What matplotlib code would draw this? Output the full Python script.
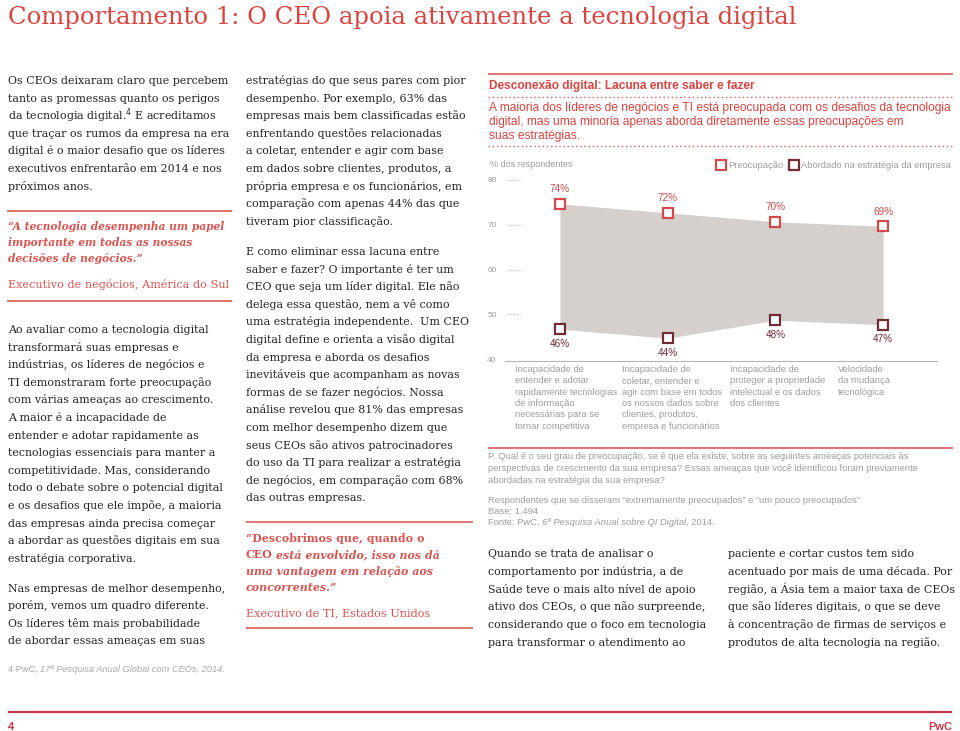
import matplotlib
matplotlib.use('Agg')
import matplotlib.pyplot as plt
from matplotlib.lines import Line2D
from matplotlib.transforms import ScaledTranslation
import numpy as np

# ---------------- data ----------------
categories = [
    "Incapacidade de\nentender e adotar\nrapidamente tecnologias\nde informação\nnecessárias para se\ntornar competitiva",
    "Incapacidade de\ncoletar, entender e\nagir com base em todos\nos nossos dados sobre\nclientes, produtos,\nempresa e funcionários",
    "Incapacidade de\nproteger a propriedade\nintelectual e os dados\ndos clientes",
    "Velocidade\nda mudança\ntecnológica",
]
concern = [74, 72, 70, 69]
addressed = [46, 44, 48, 47]
series_names = ["Preocupação", "Abordado na estratégia da empresa"]
y_ticks = [40, 50, 60, 70, 80]

title = "Comportamento 1: O CEO apoia ativamente a tecnologia digital"
col1_p1 = ["Os CEOs deixaram claro que percebem",
           "tanto as promessas quanto os perigos",
           "da tecnologia digital.$^4$ E acreditamos",
           "que traçar os rumos da empresa na era",
           "digital é o maior desafio que os líderes",
           "executivos enfrentarão em 2014 e nos",
           "próximos anos."]
col1_quote = ["“A tecnologia desempenha um papel",
              "importante em todas as nossas",
              "decisões de negócios.”"]
col1_attr = "Executivo de negócios, América do Sul"
col1_p2 = ["Ao avaliar como a tecnologia digital",
           "transformará suas empresas e",
           "indústrias, os líderes de negócios e",
           "TI demonstraram forte preocupação",
           "com várias ameaças ao crescimento.",
           "A maior é a incapacidade de",
           "entender e adotar rapidamente as",
           "tecnologias essenciais para manter a",
           "competitividade. Mas, considerando",
           "todo o debate sobre o potencial digital",
           "e os desafios que ele impõe, a maioria",
           "das empresas ainda precisa começar",
           "a abordar as questões digitais em sua",
           "estratégia corporativa."]
col1_p3 = ["Nas empresas de melhor desempenho,",
           "porém, vemos um quadro diferente.",
           "Os líderes têm mais probabilidade",
           "de abordar essas ameaças em suas"]
col2_p1 = ["estratégias do que seus pares com pior",
           "desempenho. Por exemplo, 63% das",
           "empresas mais bem classificadas estão",
           "enfrentando questões relacionadas",
           "a coletar, entender e agir com base",
           "em dados sobre clientes, produtos, a",
           "própria empresa e os funcionários, em",
           "comparação com apenas 44% das que",
           "tiveram pior classificação."]
col2_p2 = ["E como eliminar essa lacuna entre",
           "saber e fazer? O importante é ter um",
           "CEO que seja um líder digital. Ele não",
           "delega essa questão, nem a vê como",
           "uma estratégia independente.  Um CEO",
           "digital define e orienta a visão digital",
           "da empresa e aborda os desafios",
           "inevitáveis que acompanham as novas",
           "formas de se fazer negócios. Nossa",
           "análise revelou que 81% das empresas",
           "com melhor desempenho dizem que",
           "seus CEOs são ativos patrocinadores",
           "do uso da TI para realizar a estratégia",
           "de negócios, em comparação com 68%",
           "das outras empresas."]
col2_quote = [[("“Descobrimos que, quando o", "normal", "bold")],
              [("CEO", "normal", "bold"), (" está envolvido, isso nos dá", "italic", "bold")],
              [("uma vantagem em relação aos", "italic", "bold")],
              [("concorrentes.”", "italic", "bold")]]
col2_attr = "Executivo de TI, Estados Unidos"
chart_title = "Desconexão digital: Lacuna entre saber e fazer"
chart_sub = ["A maioria dos líderes de negócios e TI está preocupada com os desafios da tecnologia",
             "digital, mas uma minoria apenas aborda diretamente essas preocupações em",
             "suas estratégias."]
y_label = "% dos respondentes"
chart_q = ["P. Qual é o seu grau de preocupação, se é que ela existe, sobre as seguintes ameaças potenciais às",
           "perspectivas de crescimento da sua empresa? Essas ameaças que você identificou foram previamente",
           "abordadas na estratégia da sua empresa?"]
chart_src = [[("Respondentes que se disseram “extremamente preocupados” e “um pouco preocupados”", "normal", "normal")],
             [("Base: 1.494", "normal", "normal")],
             [("Fonte: PwC, ", "normal", "normal"), ("6ª Pesquisa Anual sobre QI Digital", "italic", "normal"),
              (", 2014.", "normal", "normal")]]
col3 = ["Quando se trata de analisar o",
        "comportamento por indústria, a de",
        "Saúde teve o mais alto nível de apoio",
        "ativo dos CEOs, o que não surpreende,",
        "considerando que o foco em tecnologia",
        "para transformar o atendimento ao"]
col4 = ["paciente e cortar custos tem sido",
        "acentuado por mais de uma década. Por",
        "região, a Ásia tem a maior taxa de CEOs",
        "que são líderes digitais, o que se deve",
        "à concentração de firmas de serviços e",
        "produtos de alta tecnologia na região."]
footnote = [("4 PwC, ", "normal", "normal"), ("17ª Pesquisa Anual Global com CEOs, 2014.", "italic", "normal")]
page_num = "4"
brand = "PwC"

# ---------------- style ----------------
W, H = 960, 731
SERIF = 'DejaVu Serif'
SANS = 'Liberation Sans'
TITLE_RED = '#d8443f'
QUOTE_RED = '#d65550'
LINE_RED = '#dc5c55'
PAGE_RED = '#c9374b'
BODY = '#242424'
GRAY = '#9c9c9c'
C_CONCERN = '#d24a4c'
C_ADDR = '#6f2e35'
C_FILL = '#d5d0cc'

fig = plt.figure(figsize=(9.6, 7.31), dpi=100)
fig.patch.set_facecolor('white')
R = fig.canvas.get_renderer()


def P(x, y):
    return (x / W, 1 - y / H)


def width(s, size, family, style='normal', weight='normal'):
    t = fig.text(0, 0, s, fontsize=size, family=family, style=style, weight=weight)
    w = t.get_window_extent(R).width
    t.remove()
    return w


def fit(line, target, family, style='normal', weight='normal', base=10.0):
    return base * target / width(line, base, family, style, weight)


def hline(x0, x1, y, color, lw=1.0, ls='-'):
    fig.add_artist(Line2D([x0 / W, x1 / W], [1 - y / H, 1 - y / H], transform=fig.transFigure,
                          color=color, lw=lw, ls=ls, solid_capstyle='butt'))


def lines_block(lines, x, y0, dy, size, family, color, style='normal', weight='normal', base_off=4):
    for i, s in enumerate(lines):
        fig.text(*P(x, y0 + i * dy + base_off), s, fontsize=size, family=family, color=color,
                 style=style, weight=weight, ha='left', va='baseline')


def runs(x, y, parts, size, family, color):
    sp = width('x x', size, family) - width('xx', size, family)
    for s, style, weight in parts:
        lead = len(s) - len(s.lstrip(' '))
        trail = len(s) - len(s.rstrip(' '))
        x += lead * sp
        t = fig.text(*P(x, y), s.strip(' '), fontsize=size, family=family, color=color,
                     style=style, weight=weight, ha='left', va='baseline')
        x += t.get_window_extent(R).width + trail * sp


# ---------------- title ----------------
ts = fit(title, 789, SERIF)
fig.text(*P(8, 24), title, fontsize=ts, family=SERIF, color=TITLE_RED, ha='left', va='baseline')

# ---------------- body text ----------------
bs = fit("todo o debate sobre o potencial digital", 215, SERIF)
lines_block(col1_p1, 8, 80, 17.6, bs, SERIF, BODY)
lines_block(col1_p2, 8, 329, 17.6, bs, SERIF, BODY)
lines_block(col1_p3, 8, 588, 17.4, bs, SERIF, BODY)
lines_block(col2_p1, 246, 80, 17.6, bs, SERIF, BODY)
lines_block(col2_p2, 246, 251, 17.6, bs, SERIF, BODY)
lines_block(col3, 488, 553, 17.8, bs, SERIF, BODY)
lines_block(col4, 728, 553, 17.8, bs, SERIF, BODY)

# quotes col1
hline(7, 232, 210.5, LINE_RED, 1.2)
qs = fit(col1_quote[0], 217, SERIF, 'italic', 'bold')
lines_block(col1_quote, 8, 226, 16.0, qs, SERIF, QUOTE_RED, 'italic', 'bold')
as_ = fit(col1_attr, 223, SERIF)
fig.text(*P(8, 288), col1_attr, fontsize=as_, family=SERIF, color=QUOTE_RED, ha='left', va='baseline')
hline(7, 232, 301, LINE_RED, 1.2)

# quotes col2
hline(246, 473, 522, LINE_RED, 1.2)
qs2c = fit(col2_quote[0][0][0], 178, SERIF, 'normal', 'bold')
for i, parts in enumerate(col2_quote):
    runs(246, 538 + i * 16.3 + 4, parts, qs2c, SERIF, QUOTE_RED)
fig.text(*P(246, 616), col2_attr, fontsize=as_, family=SERIF, color=QUOTE_RED, ha='left', va='baseline')
hline(246, 473, 628, LINE_RED, 1.2)

# footnote & page footer
fs = fit("".join(p[0] for p in footnote), 217, SANS, 'italic')
runs(8, 672, footnote, fs, SANS, '#a8a8a8')
hline(8, 952, 712, PAGE_RED, 1.6)
fig.text(*P(8, 730), page_num, fontsize=8, family=SANS, weight='bold', color=PAGE_RED, ha='left', va='baseline')
fig.text(*P(952, 730), brand, fontsize=8, family=SANS, weight='bold', color=PAGE_RED, ha='right', va='baseline')

# ---------------- chart header ----------------
hline(488, 953, 74.3, LINE_RED, 1.2)
cts = fit(chart_title, 267, SANS, 'normal', 'bold')
fig.text(*P(489, 88.5), chart_title, fontsize=cts, family=SANS, weight='bold', color=TITLE_RED,
         ha='left', va='baseline')
hline(488, 953, 96.7, LINE_RED, 1.0, (0, (1, 2)))
ss = fit(chart_sub[0], 463, SANS)
lines_block(chart_sub, 489, 107.7, 14.0, ss, SANS, TITLE_RED, base_off=3.5)
hline(488, 953, 145.5, LINE_RED, 1.0, (0, (1, 2)))
ys = fit(y_label, 82, SANS)
fig.text(*P(490, 167), y_label, fontsize=ys, family=SANS, color=GRAY, ha='left', va='baseline')

# ---------------- chart ----------------
ax = fig.add_axes([505 / W, 1 - 361 / H, 432 / W, (361 - 177) / H])
x = np.arange(len(categories))
ax.set_xlim(-0.51, 3.5)
ax.set_ylim(38.9, 80)
ax.fill_between(x, concern, addressed, color=C_FILL, lw=0, zorder=1)
l1, = ax.plot(x, concern, ls='none', marker='s', ms=7, mfc='white', mec=C_CONCERN, mew=1.6,
              zorder=3, clip_on=False, label=series_names[0])
l2, = ax.plot(x, addressed, ls='none', marker='s', ms=7, mfc='white', mec=C_ADDR, mew=1.6,
              zorder=3, clip_on=False, label=series_names[1])
vs = 7.2
for i, v in enumerate(concern):
    ax.annotate(f"{v}%", (i, v), xytext=(0, 10.5), textcoords='offset points', ha='center', va='center',
                fontsize=vs, family=SANS, color=C_CONCERN)
for i, v in enumerate(addressed):
    ax.annotate(f"{v}%", (i, v), xytext=(0, -10.5), textcoords='offset points', ha='center', va='center',
                fontsize=vs, family=SANS, color=C_ADDR)
cs = fit("rapidamente tecnologias", 103, SANS)
for i, lab in enumerate(categories):
    ax.annotate(lab, (i - 0.42, 38.9), xytext=(0, -3), textcoords='offset points', ha='left', va='top',
                fontsize=cs, family=SANS, color=GRAY, linespacing=1.33, annotation_clip=False)

for s in ['top', 'right', 'left']:
    ax.spines[s].set_visible(False)
ax.spines['bottom'].set_color('#b5b5b5')
ax.spines['bottom'].set_linewidth(0.8)
ax.set_xticks([])
ax.set_yticks(y_ticks)
ax.set_yticklabels([str(t) for t in y_ticks], fontsize=6, family=SANS, color=GRAY)
ax.tick_params(axis='y', length=0, pad=6)
off = ScaledTranslation(0, -0.03, fig.dpi_scale_trans)
for lab in ax.get_yticklabels():
    lab.set_transform(lab.get_transform() + off)
ax.hlines(y_ticks[1:], -0.485, -0.37, colors='#aaaaaa', lw=0.8, linestyles=(0, (1, 1.6)),
          transform=ax.transData + off, clip_on=False)
ax.patch.set_alpha(0)

ls_ = fit(series_names[1], 150, SANS)
fig.legend(handles=[l1, l2], loc='center right', bbox_to_anchor=(951 / W, 1 - 166 / H), ncol=2,
           frameon=False, prop={'family': SANS, 'size': ls_}, labelcolor=GRAY,
           handlelength=0.8, handletextpad=0.4, columnspacing=0.7, borderaxespad=0, borderpad=0,
           markerscale=1.0)

# ---------------- chart footer ----------------
hline(488, 953, 448, LINE_RED, 1.2)
qs2 = fit(chart_q[0], 421, SANS)
lines_block(chart_q, 488, 456, 12.0, qs2, SANS, GRAY, base_off=3)
for i, parts in enumerate(chart_src):
    runs(488, 500 + i * 11 + 3, parts, qs2, SANS, GRAY)

fig.savefig('out.png', dpi=100, facecolor='white')
